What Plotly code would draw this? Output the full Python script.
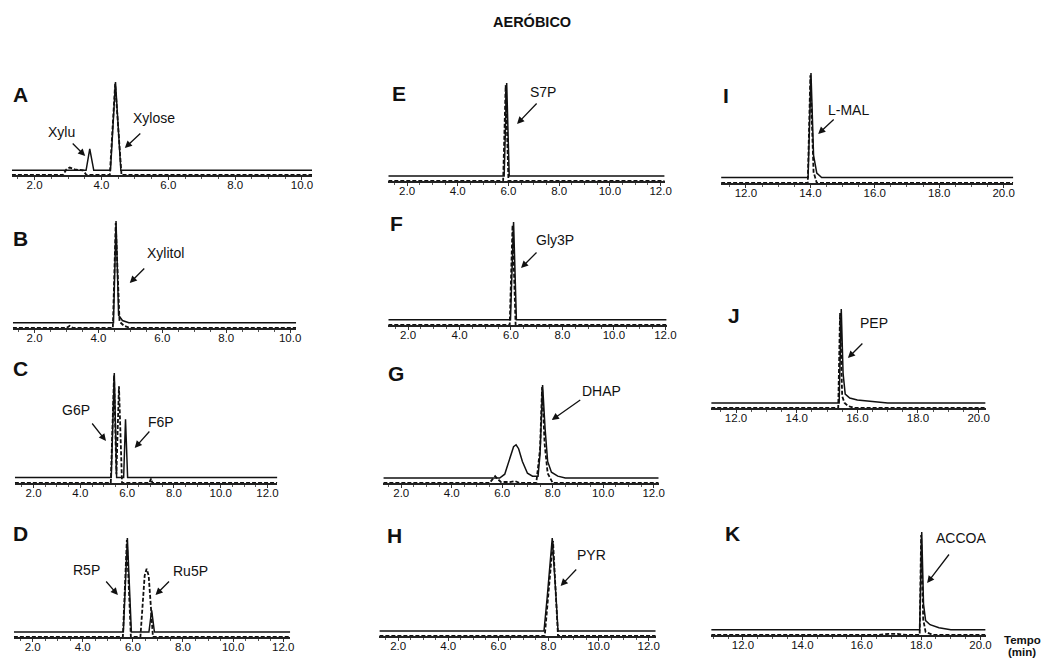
import plotly.graph_objects as go

# ---------------- DATA (retention time in min, relative intensity) ----------------
A_solid_x = [1.32, 3.54, 3.65, 3.77, 4.27, 4.42, 4.58, 10.3]
A_solid_y = [5, 5, 28, 5, 5, 100, 5, 5]
A_dash_x = [1.32, 2.85, 2.95, 3.05, 3.2, 3.45, 3.55, 4.25, 4.41, 4.6, 10.3]
A_dash_y = [0, 0, 6, 8, 6, 5, 0, 0, 98, 0, 0]

B_solid_x = [1.32, 4.47, 4.55, 4.63, 4.75, 4.95, 10.19]
B_solid_y = [5, 5, 100, 12, 7, 5, 5]
B_dash_x = [1.32, 3.0, 3.1, 3.2, 4.45, 4.54, 4.66, 4.8, 5.0, 10.19]
B_dash_y = [0, 0, 2, 0, 0, 98, 6, 2, 0, 0]

C_solid_x = [1.2, 5.32, 5.45, 5.55, 5.85, 5.93, 6.02, 12.42]
C_solid_y = [5, 5, 100, 5, 5, 58, 5, 5]
C_dash_x = [1.2, 5.3, 5.44, 5.54, 5.65, 5.78, 6.95, 7.02, 7.08, 12.42]
C_dash_y = [0, 0, 98, 8, 88, 0, 0, 4, 0, 0]

D_solid_x = [1.25, 5.62, 5.78, 5.94, 6.64, 6.75, 6.86, 12.28]
D_solid_y = [5, 5, 100, 5, 5, 27, 5, 5]
D_dash_x = [1.25, 5.6, 5.76, 5.92, 6.3, 6.38, 6.47, 6.55, 6.63, 6.72, 6.8, 12.28]
D_dash_y = [0, 0, 98, 0, 0, 30, 62, 69, 62, 30, 0, 0]

E_solid_x = [1.26, 5.83, 5.93, 6.03, 12.16]
E_solid_y = [5, 5, 100, 5, 5]
E_dash_x = [1.26, 5.79, 5.89, 6.0, 12.16]
E_dash_y = [0, 0, 98, 0, 0]

F_solid_x = [1.23, 5.98, 6.1, 6.21, 12.05]
F_solid_y = [5, 5, 100, 5, 5]
F_dash_x = [1.23, 5.95, 6.06, 6.18, 12.05]
F_dash_y = [0, 0, 97, 0, 0]

G_solid_x = [1.29, 5.9, 6.1, 6.3, 6.45, 6.55, 6.65, 6.8, 7.0, 7.2, 7.42, 7.5, 7.6, 7.7, 7.8, 7.95, 8.2, 8.5, 12.2]
G_solid_y = [5, 5, 9, 24, 37, 39, 35, 22, 10, 7, 7, 30, 100, 55, 22, 11, 7, 5, 5]
G_dash_x = [1.29, 5.5, 5.62, 5.72, 5.82, 5.95, 6.3, 6.5, 6.7, 7.35, 7.5, 7.58, 7.68, 7.8, 8.0, 12.2]
G_dash_y = [0, 0, 4, 7, 4, 1, 1, 2, 0, 0, 35, 98, 40, 10, 0, 0]

H_solid_x = [1.25, 7.82, 7.95, 8.15, 8.3, 8.38, 12.28]
H_solid_y = [5, 5, 40, 100, 40, 5, 5]
H_dash_x = [1.25, 7.85, 8.18, 8.38, 12.28]
H_dash_y = [0, 0, 97, 0, 0]

I_solid_x = [11.23, 13.93, 14.02, 14.1, 14.2, 14.35, 20.3]
I_solid_y = [5, 5, 100, 25, 9, 5, 5]
I_dash_x = [11.23, 13.92, 14.0, 14.1, 14.2, 20.3]
I_dash_y = [0, 0, 98, 10, 0, 0]

J_solid_x = [11.18, 15.4, 15.47, 15.53, 15.6, 15.75, 16.0, 16.5, 17.0, 20.23]
J_solid_y = [5, 5, 100, 35, 14, 10, 8, 6.5, 5, 5]
J_dash_x = [11.18, 15.37, 15.43, 15.5, 15.58, 15.7, 15.9, 20.23]
J_dash_y = [0, 0, 96, 12, 5, 2, 0, 0]

K_solid_x = [10.93, 17.95, 18.02, 18.08, 18.15, 18.3, 18.6, 19.0, 20.17]
K_solid_y = [5, 5, 100, 30, 14, 10, 7, 5, 5]
K_dash_x = [10.93, 16.5, 16.9, 17.2, 17.5, 17.95, 18.0, 18.07, 18.15, 18.4, 20.17]
K_dash_y = [0, 0, 1, 1, 0, 0, 97, 15, 3, 0, 0]

ticks_AB = [2, 4, 6, 8, 10]
ticks_CH = [2, 4, 6, 8, 10, 12]
ticks_IK = [12, 14, 16, 18, 20]

peak_labels = {
    "A": ["Xylu", "Xylose"], "B": ["Xylitol"], "C": ["G6P", "F6P"], "D": ["R5P", "Ru5P"],
    "E": ["S7P"], "F": ["Gly3P"], "G": ["DHAP"], "H": ["PYR"],
    "I": ["L-MAL"], "J": ["PEP"], "K": ["ACCOA"],
}

# ---------------- LAYOUT (pixel geometry) ----------------
W, H = 1056, 659
def fx(p): return p / W
def fy(p): return 1 - p / H

YLO, YHI = 0, 103
# name, x0px, x1px, axis_px, top_px(for 100), xrange, ticks, data
panels = [
    ("A", 12, 315, 175, 82, [1.32, 10.3], ticks_AB, A_solid_x, A_solid_y, A_dash_x, A_dash_y),
    ("B", 13, 299, 328, 221, [1.32, 10.19], ticks_AB, B_solid_x, B_solid_y, B_dash_x, B_dash_y),
    ("C", 15, 280, 483, 373, [1.2, 12.42], ticks_CH, C_solid_x, C_solid_y, C_dash_x, C_dash_y),
    ("D", 14, 293, 637, 538, [1.25, 12.28], ticks_CH, D_solid_x, D_solid_y, D_dash_x, D_dash_y),
    ("E", 392, 671, 181, 83, [1.26, 12.16], ticks_CH, E_solid_x, E_solid_y, E_dash_x, E_dash_y),
    ("F", 392, 673, 325, 222, [1.23, 12.05], ticks_CH, F_solid_x, F_solid_y, F_dash_x, F_dash_y),
    ("G", 387, 665, 483, 385, [1.29, 12.2], ticks_CH, G_solid_x, G_solid_y, G_dash_x, G_dash_y),
    ("H", 383, 662, 636, 538, [1.25, 12.28], ticks_CH, H_solid_x, H_solid_y, H_dash_x, H_dash_y),
    ("I", 728, 1023, 183, 73, [11.23, 20.3], ticks_IK, I_solid_x, I_solid_y, I_dash_x, I_dash_y),
    ("J", 718, 995, 408, 309, [11.18, 20.23], ticks_IK, J_solid_x, J_solid_y, J_dash_x, J_dash_y),
    ("K", 718, 995, 635, 532, [10.93, 20.17], ticks_IK, K_solid_x, K_solid_y, K_dash_x, K_dash_y),
]

FONT = "Liberation Sans, Arial, sans-serif"
fig = go.Figure()
layout = {}
for i, (name, x0, x1, axp, topp, xr, tv, sx, sy, dx, dy) in enumerate(panels, start=1):
    sfx = "" if i == 1 else str(i)
    scale = (axp - topp) / (100 - YLO)
    top_dom = axp - (YHI - YLO) * scale
    fig.add_trace(go.Scatter(x=dx, y=dy, mode="lines", xaxis="x" + sfx, yaxis="y" + sfx,
                             line=dict(color="#111", width=1.8, dash="4px,2px"),
                             showlegend=False, hoverinfo="skip"))
    fig.add_trace(go.Scatter(x=sx, y=sy, mode="lines", xaxis="x" + sfx, yaxis="y" + sfx,
                             line=dict(color="#111", width=1.5),
                             showlegend=False, hoverinfo="skip"))
    layout["xaxis" + sfx] = dict(
        domain=[fx(x0), fx(x1)], range=xr, anchor="y" + sfx,
        showline=True, linecolor="#222", linewidth=1.6,
        ticks="outside", ticklen=3, tickwidth=1, tickcolor="#333",
        tickvals=tv, ticktext=[f"{v:.1f}" for v in tv],
        minor=dict(ticks="outside", ticklen=2, tickwidth=0.8, tickcolor="#555", dtick=0.5),
        tickfont=dict(family=FONT, size=11.5, color="#111"),
        ticklabelstandoff=-5,
        showgrid=False, zeroline=False, fixedrange=True,
    )
    layout["yaxis" + sfx] = dict(
        domain=[fy(axp), fy(top_dom)], range=[YLO, YHI], anchor="x" + sfx,
        visible=False, showgrid=False, zeroline=False, fixedrange=True,
    )

annotations = []
# Title
annotations.append(dict(text="<b>AERÓBICO</b>", x=fx(537), y=fy(22), xref="paper", yref="paper",
                        showarrow=False, font=dict(family=FONT, size=14.5, color="#111"),
                        xanchor="center", yanchor="middle"))
# panel letters
letter_pos = {"A": (21, 94), "B": (21, 238), "C": (21, 368), "D": (21, 533),
              "E": (403, 93), "F": (400, 223), "G": (400, 373), "H": (398, 535),
              "I": (733, 95), "J": (741, 315), "K": (739, 533)}
for k, (px_, py_) in letter_pos.items():
    annotations.append(dict(text=f"<b>{k}</b>", x=fx(px_), y=fy(py_), xref="paper", yref="paper",
                            showarrow=False, font=dict(family=FONT, size=21, color="#111"),
                            xanchor="center", yanchor="middle"))
# peak labels: (text center px, arrow tail px, arrow head px)
label_geom = {
    "A": [((62, 132), (72, 142), (86, 156)), ((155, 118), (143, 132), (126, 148))],
    "B": [((167, 253), (147, 267), (131, 283))],
    "C": [((77, 410), (92, 422), (107, 441)), ((163, 422), (152, 430), (136, 448))],
    "D": [((87, 570), (106, 580), (119, 595)), ((192, 571), (172, 580), (157, 595))],
    "E": [((548, 92), (543, 102), (522, 124))],
    "F": [((560, 240), (543, 251), (526, 268))],
    "G": [((607, 391), (587, 399), (557, 420))],
    "H": [((597, 555), (583, 568), (566, 586))],
    "I": [((857, 110), (843, 118), (826, 134))],
    "J": [((882, 323), (872, 342), (856, 358))],
    "K": [((970, 538), (959, 553), (936, 583))],
}
for k, texts in peak_labels.items():
    for t, ((tx, ty), (ax_, ay_), (hx, hy)) in zip(texts, label_geom[k]):
        annotations.append(dict(text=t, x=fx(tx), y=fy(ty), xref="paper", yref="paper",
                                showarrow=False, font=dict(family=FONT, size=14, color="#111"),
                                xanchor="center", yanchor="middle"))
        annotations.append(dict(text="", x=fx(hx), y=fy(hy), xref="paper", yref="paper",
                                ax=ax_ - hx, ay=ay_ - hy, axref="pixel", ayref="pixel",
                                showarrow=True, arrowhead=2, arrowsize=1.1, arrowwidth=1.3,
                                arrowcolor="#111"))
annotations.append(dict(text="<b>Tempo</b>", x=fx(1032), y=fy(640), xref="paper", yref="paper",
                        showarrow=False, font=dict(family=FONT, size=11.5, color="#111"),
                        xanchor="center", yanchor="middle"))
annotations.append(dict(text="<b>(min)</b>", x=fx(1032), y=fy(652), xref="paper", yref="paper",
                        showarrow=False, font=dict(family=FONT, size=11.5, color="#111"),
                        xanchor="center", yanchor="middle"))

fig.update_layout(
    width=W, height=H, autosize=False,
    margin=dict(l=0, r=0, t=0, b=0),
    paper_bgcolor="white", plot_bgcolor="white",
    annotations=annotations,
    **layout,
)
fig.write_html("out.html", config={"displayModeBar": False},
               post_script="document.body.style.margin='0px';document.body.style.overflow='hidden';")
